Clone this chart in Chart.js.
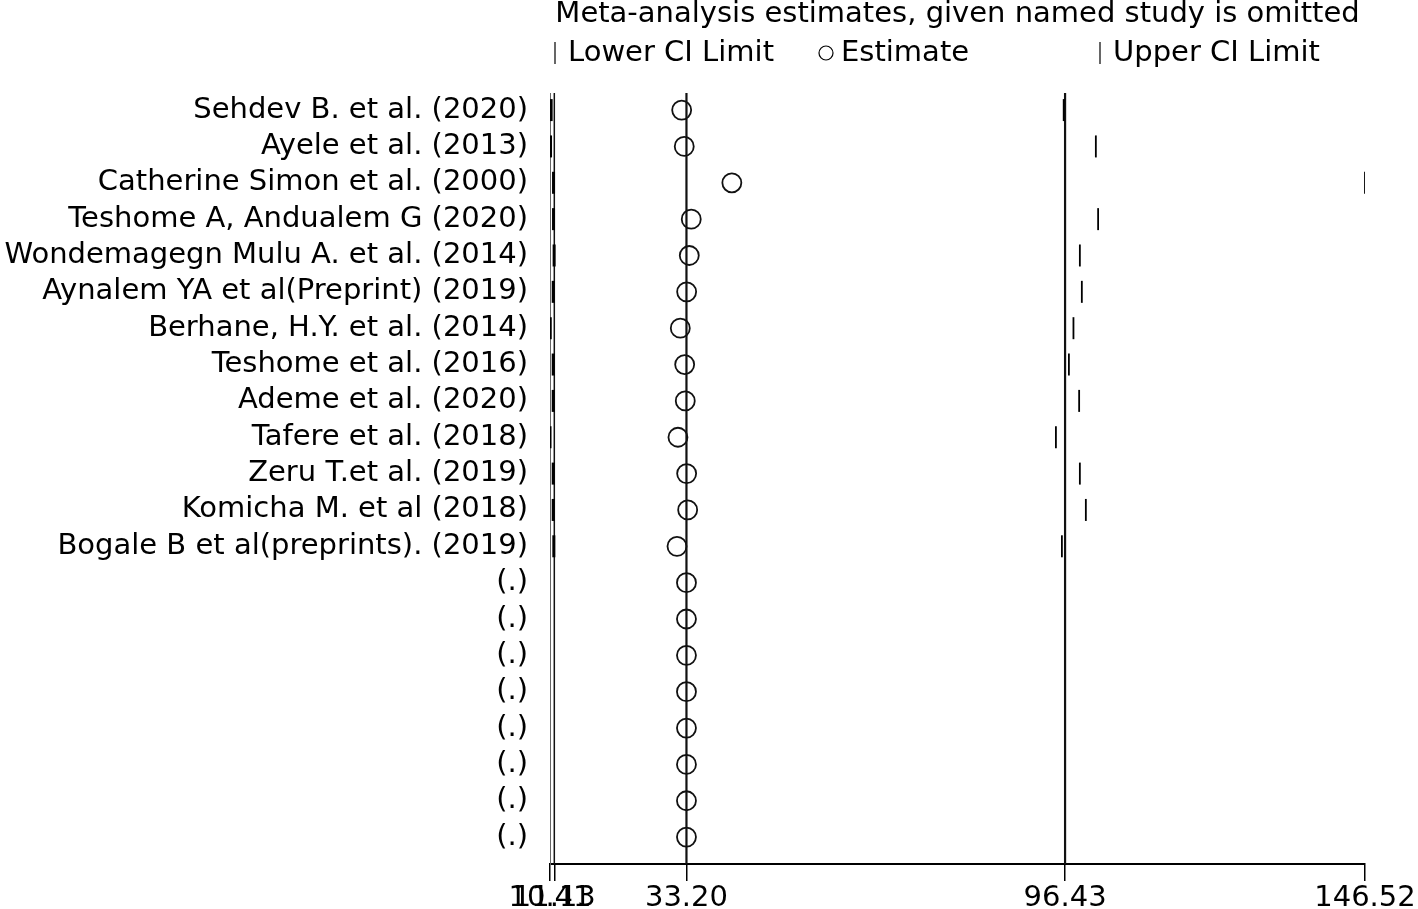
<!DOCTYPE html>
<html>
<head>
<meta charset="utf-8">
<script src="https://cdn.jsdelivr.net/npm/chart.js@4.4.1/dist/chart.umd.min.js"></script>
<style>
  body { margin: 0; background: #fff; }
</style>
</head>
<body>
<canvas id="mychart1" width="1418" height="909"></canvas>
<script>
// studies, in plot order (top to bottom); "(.)" rows are empty slots
var studies = [
  "Sehdev B. et al. (2020)",
  "Ayele et al. (2013)",
  "Catherine Simon et al. (2000)",
  "Teshome A, Andualem G (2020)",
  "Wondemagegn Mulu A. et al. (2014)",
  "Aynalem YA et al(Preprint) (2019)",
  "Berhane, H.Y. et al. (2014)",
  "Teshome et al. (2016)",
  "Ademe et al. (2020)",
  "Tafere et al. (2018)",
  "Zeru T.et al. (2019)",
  "Komicha M. et al (2018)",
  "Bogale B et al(preprints). (2019)",
  "(.)", "(.)", "(.)", "(.)", "(.)", "(.)", "(.)", "(.)"
];
var lowerCI   = [10.60, 10.50, 11.00, 11.00, 11.10, 10.95, 10.45, 10.95, 10.95, 10.41, 10.95, 10.95, 11.05,
                 null, null, null, null, null, null, null, null];
var estimates = [32.40, 32.83, 40.78, 34.00, 33.67, 33.23, 32.17, 32.90, 33.00, 31.78, 33.23, 33.40, 31.62,
                 33.20, 33.20, 33.20, 33.20, 33.20, 33.20, 33.20, 33.20];
var upperCI   = [96.20, 101.57, 146.52, 101.95, 98.90, 99.23, 97.83, 97.07, 98.78, 94.90, 98.90, 99.90, 95.90,
                 null, null, null, null, null, null, null, null];

// overall estimate with CI (vertical lines) and the x tick labels
var overall = [11.13, 33.20, 96.43];
var xTicks = [10.41, 11.13, 33.20, 96.43, 146.52];

var FONT = "'DejaVu Sans', sans-serif";
var FSIZE = 29;
var Y_MIN = -0.47, Y_MAX = 20.74;

function pts(vals){
  var out = [];
  vals.forEach(function(v, i){ if (v !== null) out.push({x: v, y: i}); });
  return out;
}

function refLine(v, w){
  return {
    type: 'line',
    data: [{x: v, y: Y_MIN}, {x: v, y: Y_MAX}],
    borderColor: '#111',
    borderWidth: w,
    pointRadius: 0,
    showLine: true,
    order: 5
  };
}

// title + legend, drawn above the plot region
var headerPlugin = {
  id: 'header',
  afterDraw: function(chart){
    var ctx = chart.ctx, a = chart.chartArea;
    ctx.save();
    ctx.fillStyle = '#000';
    ctx.font = FSIZE + "px " + FONT;
    ctx.textAlign = 'center';
    ctx.textBaseline = 'middle';
    ctx.fillText("Meta-analysis estimates, given named study is omitted", (a.left + a.right) / 2, 14);

    ctx.textAlign = 'left';
    ctx.strokeStyle = '#000';
    ctx.lineWidth = 1.2;
    var ly = 53;
    // lower CI
    ctx.beginPath(); ctx.moveTo(555, ly - 11); ctx.lineTo(555, ly + 11); ctx.stroke();
    ctx.fillText("Lower CI Limit", 568, ly);
    // estimate
    ctx.beginPath(); ctx.arc(826, ly, 7, 0, Math.PI * 2); ctx.stroke();
    ctx.fillText("Estimate", 841, ly);
    // upper CI
    ctx.beginPath(); ctx.moveTo(1100, ly - 11); ctx.lineTo(1100, ly + 11); ctx.stroke();
    ctx.fillText("Upper CI Limit", 1113, ly);
    ctx.restore();
  }
};

var ctx = document.getElementById("mychart1").getContext('2d');
var mychart = new Chart(ctx, {
  type: 'scatter',
  data: {
    datasets: [
      {
        label: 'Lower CI Limit',
        data: pts(lowerCI),
        pointStyle: 'line',
        rotation: 90,
        radius: 11,
        borderWidth: 3,
        borderColor: '#000',
        order: 1
      },
      {
        label: 'Estimate',
        data: pts(estimates),
        pointStyle: 'circle',
        radius: 9.5,
        borderWidth: 1.8,
        borderColor: '#111',
        backgroundColor: 'rgba(0,0,0,0)',
        order: 1
      },
      {
        label: 'Upper CI Limit',
        data: pts(upperCI),
        pointStyle: 'line',
        rotation: 90,
        radius: 11,
        borderWidth: 1.8,
        borderColor: '#000',
        order: 1
      },
      refLine(overall[0], 1.5),
      refLine(overall[1], 2.2),
      refLine(overall[2], 2.2)
    ]
  },
  options: {
    responsive: false,
    animation: false,
    layout: { padding: { left: 0, right: 53, top: 93, bottom: 0 } },
    plugins: {
      legend: { display: false },
      tooltip: { enabled: false },
      title: { display: false }
    },
    scales: {
      x: {
        type: 'linear',
        min: 10.41,
        max: 146.52,
        afterBuildTicks: function(scale){
          scale.ticks = xTicks.map(function(v){ return {value: v}; });
        },
        afterFit: function(scale){ scale.height = 45; },
        ticks: {
          autoSkip: false,
          maxRotation: 0,
          padding: 0,
          color: '#000',
          font: { family: FONT, size: FSIZE },
          callback: function(v){ return Number(v).toFixed(2); }
        },
        grid: { drawOnChartArea: false, tickLength: 17, color: '#000', lineWidth: 1.5 },
        border: { color: '#000', width: 2 }
      },
      y: {
        type: 'linear',
        min: Y_MIN,
        max: Y_MAX,
        reverse: true,
        afterBuildTicks: function(scale){
          scale.ticks = studies.map(function(s, i){ return {value: i}; });
        },
        afterFit: function(scale){ scale.width = 550; },
        ticks: {
          autoSkip: false,
          padding: 22,
          color: '#000',
          font: { family: FONT, size: FSIZE },
          callback: function(v){ return studies[v]; }
        },
        grid: { display: false, drawTicks: false },
        border: { color: '#666', width: 1 }
      }
    }
  },
  plugins: [headerPlugin]
});
</script>
</body>
</html>
